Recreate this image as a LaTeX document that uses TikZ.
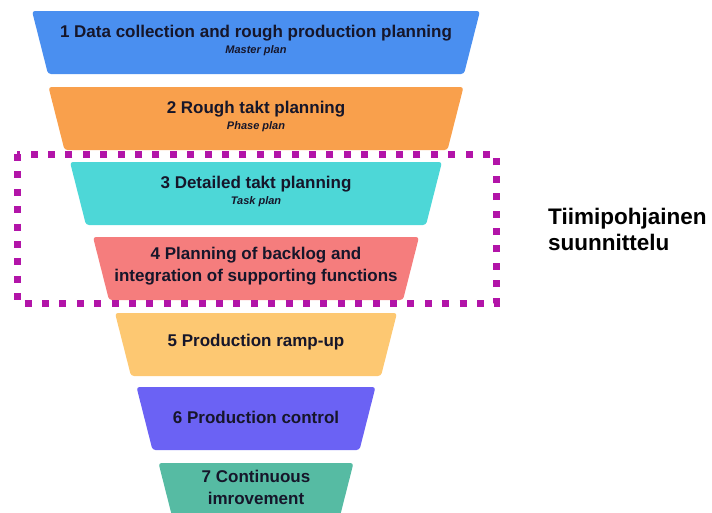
\documentclass[tikz,border=0pt]{standalone}
\usepackage{fontspec}
\setmainfont{Liberation Sans}
\begin{document}
\begin{tikzpicture}[x=1pt,y=-1pt,
  steptext/.style={font=\fontsize{17}{21.5}\selectfont\bfseries, text=inkdark, align=center, inner sep=0pt},
  subtext/.style={font=\fontsize{11}{13}\selectfont\bfseries\itshape, text=inkdark, inner sep=0pt},
  sidetext/.style={font=\fontsize{22.5}{25.5}\selectfont\bfseries, text=black, align=left, inner sep=0pt, anchor=north west},
  teamframe/.style={draw=framemag, line width=7pt, dash pattern=on 7pt off 10.4pt}
]
\definecolor{inkdark}{HTML}{16162A}
\definecolor{c1}{HTML}{4A8FF0}
\definecolor{c2}{HTML}{F9A04C}
\definecolor{c3}{HTML}{4DD7D7}
\definecolor{c4}{HTML}{F57D7D}
\definecolor{c5}{HTML}{FDC872}
\definecolor{c6}{HTML}{6B62F4}
\definecolor{c7}{HTML}{56BBA3}
\definecolor{framemag}{HTML}{B214A8}

\useasboundingbox (0,0) rectangle (712,512);
\clip (0,0) rectangle (712,512);

% funnel levels: top edge y, top half-width, colour
\foreach \ty/\hw/\col in {11/224/c1, 87/207.5/c2, 162/186/c3, 237/163/c4, 313/141/c5, 387/119.5/c6, 463/97.5/c7}{
  \fill[\col, rounded corners=3pt]
    (256-\hw,\ty) -- (256+\hw,\ty) -- (256+\hw-16,\ty+63) -- (256-\hw+16,\ty+63) -- cycle;
}

% labels
\node[steptext] (t1) at (256,33) {1 Data collection and rough production planning};
\node[subtext]  (s1) at (256,51) {Master plan};
\node[steptext] (t2) at (256,109) {2 Rough takt planning};
\node[subtext]  (s2) at (256,127) {Phase plan};
\node[steptext] (t3) at (256,184) {3 Detailed takt planning};
\node[subtext]  (s3) at (256,202) {Task plan};
\node[steptext] (t4) at (256,266) {4 Planning of backlog and\\integration of supporting functions};
\node[steptext] (t5) at (256,342) {5 Production ramp-up};
\node[steptext] (t6) at (256,417) {6 Production control};
\node[steptext] (t7) at (256,487.5) {7 Continuous\\imrovement};

% team planning frame around levels 3 and 4
\draw[teamframe] (17,154) rectangle (496,303);
\node[sidetext] (team) at (548,208) {Tiimipohjainen\\suunnittelu};
\end{tikzpicture}
\end{document}
